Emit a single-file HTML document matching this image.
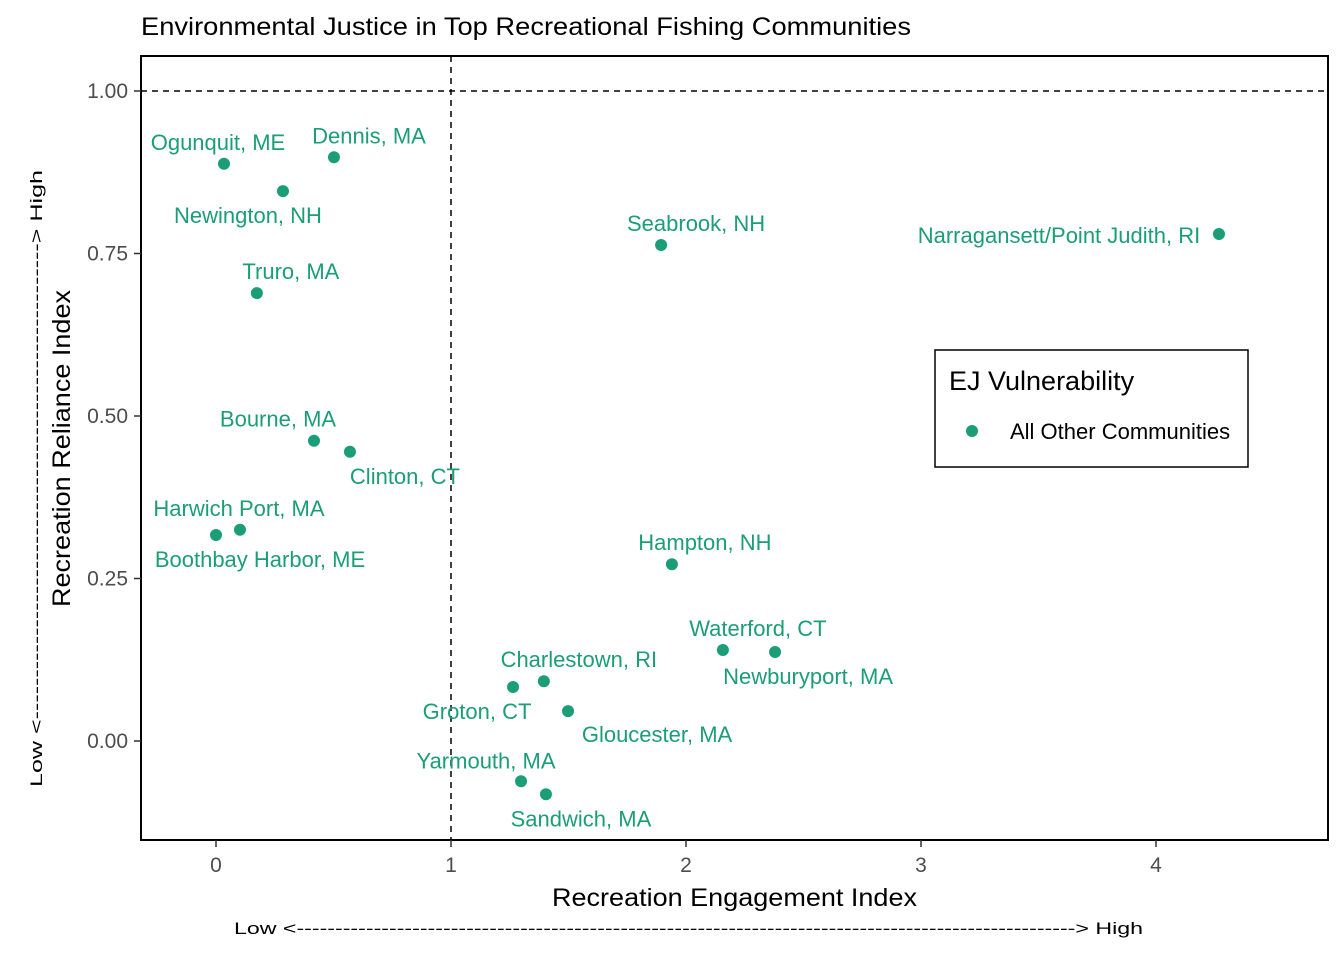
<!DOCTYPE html>
<html><head><meta charset="utf-8"><style>
body{margin:0;background:#fff;}
svg text{font-family:"Liberation Sans",Arial,sans-serif;}
</style></head><body>
<svg id="chart" width="1344" height="960" xmlns="http://www.w3.org/2000/svg">
<text x="141" y="35" font-size="25" textLength="770" lengthAdjust="spacingAndGlyphs" fill="#000">Environmental Justice in Top Recreational Fishing Communities</text>
<rect x="141" y="56" width="1187" height="784" fill="none" stroke="#000" stroke-width="2"/>
<g id="axes"></g>
<g id="marks"></g>
<text x="552" y="906" font-size="25" textLength="365" lengthAdjust="spacingAndGlyphs" fill="#000">Recreation Engagement Index</text>
<text x="234" y="934" font-size="17" textLength="909" lengthAdjust="spacingAndGlyphs" fill="#000">Low &lt;-----------------------------------------------------------------------------------------------------&gt; High</text>
<text transform="translate(70,607) rotate(-90)" font-size="25" textLength="317" lengthAdjust="spacingAndGlyphs" fill="#000">Recreation Reliance Index</text>
<text transform="translate(42,787) rotate(-90)" font-size="17" textLength="617" lengthAdjust="spacingAndGlyphs" fill="#000">Low &lt;---------------------------------------------------------&gt; High</text>
<g>
<rect x="935" y="350" width="313" height="117" fill="#fff" stroke="#000" stroke-width="1.5"/>
<text x="949" y="390" font-size="27" fill="#000">EJ Vulnerability</text>
<circle cx="972" cy="431" r="6" fill="#1b9e77"/>
<text x="1010" y="439" font-size="22" fill="#000">All Other Communities</text>
</g>
</svg>
<script>
const names=["Ogunquit, ME","Dennis, MA","Newington, NH","Truro, MA","Seabrook, NH","Narragansett/Point Judith, RI","Bourne, MA","Clinton, CT","Harwich Port, MA","Boothbay Harbor, ME","Hampton, NH","Waterford, CT","Newburyport, MA","Charlestown, RI","Groton, CT","Gloucester, MA","Yarmouth, MA","Sandwich, MA"];
const engagement=[0.034,0.502,0.285,0.174,1.894,4.268,0.417,0.570,0.102,0.0,1.94,2.157,2.379,1.395,1.264,1.498,1.298,1.404];
const reliance=[0.888,0.898,0.846,0.689,0.763,0.780,0.462,0.445,0.325,0.317,0.272,0.140,0.137,0.092,0.083,0.046,-0.062,-0.082];
const xTicks=[0,1,2,3,4];
const yTicks=[0,0.25,0.5,0.75,1.0];
const yTickLabels=["0.00","0.25","0.50","0.75","1.00"];
const labelDx=[-6,35,-35,34,35,-160,-36,55,-1,44,33,35,33,35,-36,89,-35,35];
const labelDy=[-14,-14,32,-14,-14,9,-14,32,-14,32,-14,-14,32,-14,32,31,-13,32];
const X=v=>216+v*235, Y=v=>741-v*650;
const NS="http://www.w3.org/2000/svg";
const axes=document.getElementById('axes'), marks=document.getElementById('marks');
function mk(tag,attrs,parent){const e=document.createElementNS(NS,tag);for(const k in attrs)e.setAttribute(k,attrs[k]);parent.appendChild(e);return e;}
xTicks.forEach(t=>{
 const l=mk('line',{x1:X(t),x2:X(t),y1:840,y2:847,stroke:'#333','stroke-width':1.5},axes);
 
 
 const tx=mk('text',{x:X(t),y:872,'font-size':21,'text-anchor':'middle',fill:'#4d4d4d'},axes);tx.textContent=t;
 
 
});
yTicks.forEach((t,i)=>{
 const l=mk('line',{x1:134,x2:141,y1:Y(t),y2:Y(t),stroke:'#333','stroke-width':1.5},axes);
 
 
 const tx=mk('text',{x:128,y:Y(t)+7,'font-size':21,'text-anchor':'end',fill:'#4d4d4d'},axes);tx.textContent=yTickLabels[i];
 
 
});
const h=mk('line',{x1:141,x2:1328,y1:Y(1),y2:Y(1),stroke:'#000','stroke-width':1.5,'stroke-dasharray':'6,5'},axes);


const v=mk('line',{x1:X(1),x2:X(1),y1:56,y2:840,stroke:'#000','stroke-width':1.5,'stroke-dasharray':'6,5'},axes);


names.forEach((n,i)=>{
 const c=mk('circle',{cx:X(engagement[i]),cy:Y(reliance[i]),r:6,fill:'#1b9e77'},marks);
 
 
 const t=mk('text',{x:X(engagement[i])+labelDx[i],y:Y(reliance[i])+labelDy[i],'font-size':22,'text-anchor':'middle',fill:'#1b9e77'},marks);
 t.textContent=n;
 
 
});
</script>
</body></html>
